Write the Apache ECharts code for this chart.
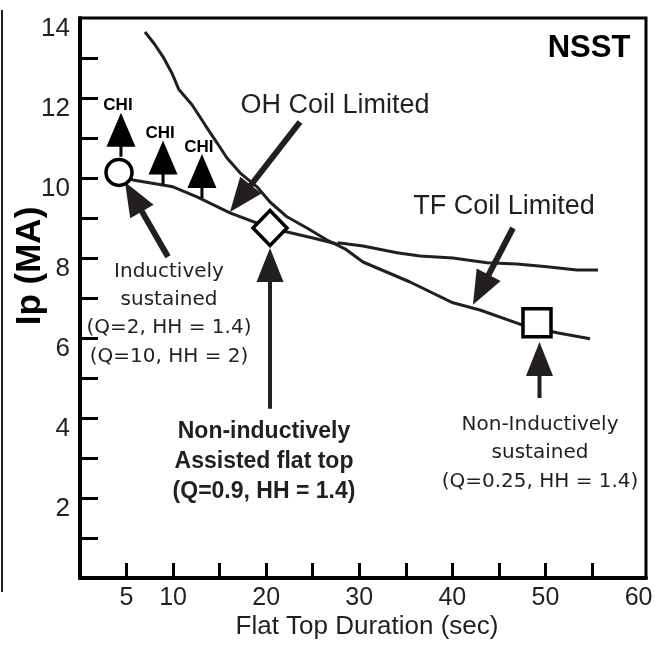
<!DOCTYPE html>
<html><head><meta charset="utf-8">
<script src="https://cdn.jsdelivr.net/npm/echarts@6/dist/echarts.min.js"></script>
<style>html,body{margin:0;padding:0;background:#fff}#c{width:659px;height:648px}</style>
</head><body><div id="c"></div>
<script>
// ---- data ----
const xTickValues = [5, 10, 15, 20, 25, 30, 35, 40, 45, 50, 55];
const xLabelValues = [5, 10, 20, 30, 40, 50, 60];
const yTickValues = [1, 2, 3, 4, 5, 6, 7, 8, 9, 10, 11, 12, 13];
const yLabelValues = [2, 4, 6, 8, 10, 12, 14];

const ohCoilLimited = [
  [6.98, 13.65], [8.0, 13.35], [8.92, 13.03], [9.88, 12.62], [10.6, 12.22], [12.03, 11.83],
  [13.43, 11.33], [14.72, 10.88], [15.79, 10.5], [17.19, 10.13], [19.01, 9.78],
  [20.41, 9.4], [22.23, 9.03], [24.38, 8.75], [26.53, 8.45], [28.46, 8.23],
  [30.4, 7.9], [35.45, 7.4], [40.06, 6.88], [42.97, 6.7], [47.48, 6.33],
  [51.24, 6.13], [54.78, 5.98]
];
const lowerEnvelope = [
  [4.19, 10.14], [5.69, 9.95], [9.99, 9.78], [12.57, 9.53], [16.11, 9.13],
  [20.41, 8.75], [25.03, 8.5], [27.93, 8.33]
];
const tfCoilLimited = [
  [27.71, 8.38], [30.4, 8.3], [34.05, 8.13], [36.52, 8.05], [40.06, 8.0],
  [43.72, 7.88], [46.94, 7.85], [50.16, 7.78], [53.38, 7.7], [55.64, 7.7]
];
const inductivePoint = [[4.19, 10.14]];
const assistedPoint = [[20.41, 8.75]];
const nonInductivePoint = [[49.09, 6.38]];
const chiPoints = [[4.40, 11.08], [8.92, 10.39], [13.10, 10.05]];
const chiLabel = 'CHI';
const arrowTails = [[23.63, 11.4], [9.45, 8.03], [46.51, 8.75], [20.41, 4.23], [49.36, 4.5]];
const arrowTips  = [[16.11, 9.15], [4.83, 9.9], [42.21, 6.83], [20.41, 8.25], [49.36, 5.9]];

// ---- chart ----
const INK = '#231f20';
const chart = echarts.init(document.getElementById('c'), null, {renderer: 'canvas'});
const arrowData = arrowTails.map((t, i) => [t[0], t[1], arrowTips[i][0], arrowTips[i][1]]);
const markerStyle = {color: '#fff', borderColor: '#000', borderWidth: 3.5, opacity: 1};

const option = {
  backgroundColor: '#fff',
  animation: false,
  grid: {left: 80, right: 13, top: 18, bottom: 70, show: true, borderColor: '#000', borderWidth: 3,
         containLabel: false, outerBoundsMode: 'none'},
  xAxis: {
    type: 'value', min: 0, max: 60.8, interval: 5,
    axisLine: {show: true, onZero: false, lineStyle: {color: '#000', width: 4}},
    axisTick: {show: true, inside: true, length: 15, customValues: xTickValues, lineStyle: {color: '#000', width: 3}},
    axisLabel: {show: true, customValues: xLabelValues, margin: 8, color: INK, fontSize: 25, fontFamily: 'Liberation Sans'},
    splitLine: {show: false}
  },
  yAxis: {
    type: 'value', min: 0, max: 14, interval: 1,
    axisLine: {show: true, onZero: false, lineStyle: {color: '#000', width: 4}},
    axisTick: {show: true, inside: true, length: 18, customValues: yTickValues, lineStyle: {color: '#000', width: 3}},
    axisLabel: {show: true, customValues: yLabelValues, margin: 10, color: INK, fontSize: 26, fontFamily: 'Liberation Sans',
                verticalAlign: 'top', lineHeight: 21},
    splitLine: {show: false}
  },
  graphic: [
    {type: 'line', shape: {x1: 2, y1: 10, x2: 2, y2: 592}, style: {stroke: INK, lineWidth: 2}},
    {type: 'text', x: 589, y: 48, style: {text: 'NSST', font: 'bold 31px "Liberation Sans"', fill: '#000', align: 'center', verticalAlign: 'middle'}},
    {type: 'text', x: 335, y: 106, style: {text: 'OH Coil Limited', font: '27px "Liberation Sans"', fill: INK, align: 'center', verticalAlign: 'middle'}},
    {type: 'text', x: 504, y: 207, style: {text: 'TF Coil Limited', font: '27px "Liberation Sans"', fill: INK, align: 'center', verticalAlign: 'middle'}},
    {type: 'text', x: 169, y: 314, style: {text: 'Inductively\nsustained\n(Q=2, HH = 1.4)\n(Q=10, HH = 2)', font: '20px "DejaVu Sans"', lineHeight: 28.3, fill: INK, align: 'center', verticalAlign: 'middle'}},
    {type: 'text', x: 264, y: 462, style: {text: 'Non-inductively\nAssisted flat top\n(Q=0.9, HH = 1.4)', font: 'bold 23px "Liberation Sans"', lineHeight: 30, fill: INK, align: 'center', verticalAlign: 'middle'}},
    {type: 'text', x: 540, y: 453, style: {text: 'Non-Inductively\nsustained\n(Q=0.25, HH = 1.4)', font: '20px "DejaVu Sans"', lineHeight: 28.5, fill: INK, align: 'center', verticalAlign: 'middle'}},
    {type: 'text', x: 30, y: 266, rotation: Math.PI / 2, style: {text: 'Ip (MA)', font: 'bold 35px "Liberation Sans"', fill: '#000', align: 'center', verticalAlign: 'middle'}},
    {type: 'text', x: 367, y: 627, style: {text: 'Flat Top Duration (sec)', font: '26px "Liberation Sans"', fill: INK, align: 'center', verticalAlign: 'middle'}}
  ],
  series: [
    {type: 'line', name: 'OH Coil Limited', data: ohCoilLimited, showSymbol: false, symbol: 'none', z: 3,
     lineStyle: {color: INK, width: 3, opacity: 1}},
    {type: 'line', name: 'Envelope', data: lowerEnvelope, showSymbol: false, symbol: 'none', z: 3,
     lineStyle: {color: INK, width: 3, opacity: 1}},
    {type: 'line', name: 'TF Coil Limited', data: tfCoilLimited, showSymbol: false, symbol: 'none', z: 3,
     lineStyle: {color: INK, width: 3, opacity: 1}},
    {type: 'custom', name: 'arrows', data: arrowData, z: 5, encode: {x: [0, 2], y: [1, 3]},
     renderItem: function (params, api) {
       const a = api.coord([api.value(0), api.value(1)]);
       const b = api.coord([api.value(2), api.value(3)]);
       const dx = b[0] - a[0], dy = b[1] - a[1];
       const L = Math.hypot(dx, dy);
       const ux = dx / L, uy = dy / L, nx = -uy, ny = ux;
       const hl = 34, hw = 27;
       const sw = Math.abs(ux) < 0.05 ? 4 : 6;
       const bx = b[0] - ux * hl, by = b[1] - uy * hl;
       return {type: 'group', children: [
         {type: 'line', shape: {x1: a[0], y1: a[1], x2: bx + ux * 3, y2: by + uy * 3}, style: {stroke: INK, lineWidth: sw}},
         {type: 'polygon', shape: {points: [[b[0], b[1]], [bx + nx * hw / 2, by + ny * hw / 2], [bx - nx * hw / 2, by - ny * hw / 2]]},
          style: {fill: INK}}
       ]};
     }},
    {type: 'scatter', name: 'CHI', data: chiPoints, z: 6,
     symbol: 'path://M14.5,0L29,34L16,34L16,44L13,44L13,34L0,34Z', symbolSize: [29, 44], symbolKeepAspect: false,
     itemStyle: {color: '#000', opacity: 1},
     label: {show: true, formatter: chiLabel, position: 'inside', offset: [-3, -29], color: '#000',
             fontSize: 17, fontWeight: 'bold', fontFamily: 'Liberation Sans'}},
    {type: 'scatter', name: 'Inductively sustained', data: inductivePoint, z: 7, symbol: 'circle', symbolSize: 26,
     itemStyle: markerStyle},
    {type: 'scatter', name: 'Assisted', data: assistedPoint, z: 7, symbol: 'diamond', symbolSize: [34, 35],
     itemStyle: markerStyle},
    {type: 'scatter', name: 'Non-inductive', data: nonInductivePoint, z: 7, symbol: 'rect', symbolSize: 28,
     itemStyle: markerStyle}
  ]
};
chart.setOption(option);
</script>
</body></html>
